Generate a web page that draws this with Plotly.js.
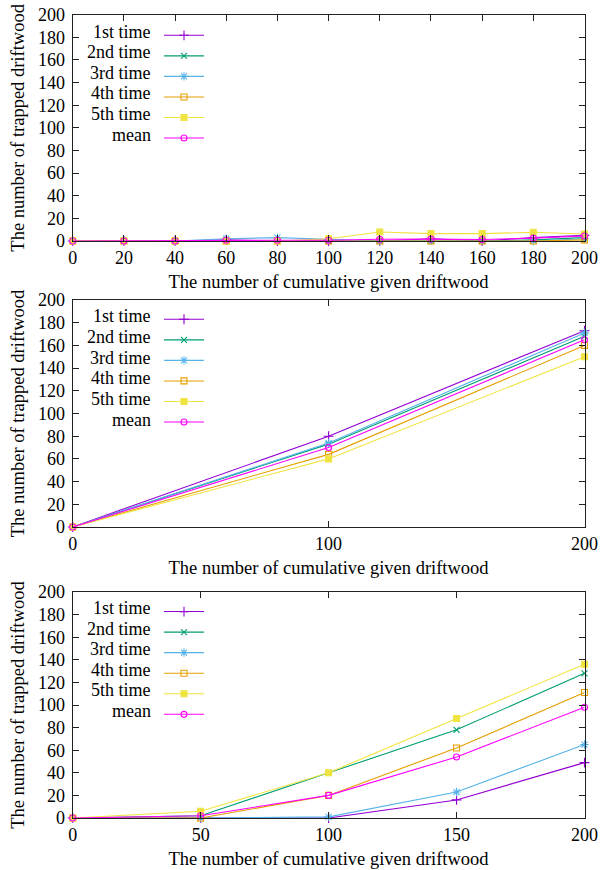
<!DOCTYPE html>
<html>
<head>
<meta charset="utf-8">
<script src="https://cdn.plot.ly/plotly-3.0.1.min.js"></script>
<style>html,body{margin:0;padding:0;background:#fff;}#chart{width:600px;height:870px;}</style>
</head>
<body>
<div id="chart"></div>
<script>
// ---------- data ----------
const seriesNames = ["1st time", "2nd time", "3rd time", "4th time", "5th time", "mean"];

const x1 = [0, 20, 40, 60, 80, 100, 120, 140, 160, 180, 200];
const p1First  = [0, 0, 0, 1, 0, 0, 0, 2, 0, 3, 5];
const p1Second = [0, 0, 0, 0, 0, 0, 0, 0, 0, 1, 3];
const p1Third  = [0, 0, 0, 2, 3, 1.5, 0, 0, 0, 0, 2];
const p1Fourth = [0, 0, 0, 0, 0, 0, 0, 0, 0, 0, 1];
const p1Fifth  = [0, 0, 0, 0, 0, 2, 8, 6.5, 6.5, 7.7, 6.2];
const p1Mean   = [0, 0, 0, 0.6, 0.6, 0.7, 1.6, 1.7, 1.3, 2.5, 4.4];

const x2 = [0, 100, 200];
const p2First  = [0, 80, 173];
const p2Second = [0, 73, 168];
const p2Third  = [0, 74, 171];
const p2Fourth = [0, 64, 160];
const p2Fifth  = [0, 60, 150];
const p2Mean   = [0, 70, 165];

const x3 = [0, 50, 100, 150, 200];
const p3First  = [0, 0, 0, 16, 49];
const p3Second = [0, 2, 40, 78, 128];
const p3Third  = [0, 0, 1, 23, 65];
const p3Fourth = [0, 0, 20, 62, 111];
const p3Fifth  = [0, 6, 40, 88, 136];
const p3Mean   = [0, 2, 20, 54, 98];

const xTicks1 = [0, 20, 40, 60, 80, 100, 120, 140, 160, 180, 200];
const xTicks2 = [0, 100, 200];
const xTicks3 = [0, 50, 100, 150, 200];
const yTicks = [0, 20, 40, 60, 80, 100, 120, 140, 160, 180, 200];

// ---------- styles ----------
const colors = ["#9400d3", "#009e73", "#56b4e9", "#e69f00", "#f0e442", "#ff00ff"];
const symbols = ["cross-thin-open", "x-thin-open", "asterisk-open", "square-open", "square", "circle-open"];
const sizes = [7, 6, 7, 6, 6, 6];
const FONT = "Liberation Serif, Times New Roman, serif";
const W = 600, H = 870;

const panels = [
  {x: x1, ys: [p1First, p1Second, p1Third, p1Fourth, p1Fifth, p1Mean], ticks: xTicks1,
   top: 14.7, bottom: 241, rows: [32, 52.5, 73, 93.5, 114, 134.5]},
  {x: x2, ys: [p2First, p2Second, p2Third, p2Fourth, p2Fifth, p2Mean], ticks: xTicks2,
   top: 300, bottom: 527, rows: [316, 336.8, 357.6, 378.4, 399.2, 420]},
  {x: x3, ys: [p3First, p3Second, p3Third, p3Fourth, p3Fifth, p3Mean], ticks: xTicks3,
   top: 592, bottom: 818, rows: [608.3, 628.8, 649.3, 669.8, 690.3, 710.8]}
];

const left = 72.7, right = 584.5;
const traces = [];
const layout = {
  width: W, height: H,
  margin: {l: 0, r: 0, t: 0, b: 0},
  paper_bgcolor: "#fff", plot_bgcolor: "#fff",
  font: {family: FONT, size: 18, color: "#000"},
  annotations: [],
  showlegend: true
};

panels.forEach((p, pi) => {
  const sfx = pi === 0 ? "" : String(pi + 1);
  const legendId = "legend" + sfx;
  p.ys.forEach((yv, si) => {
    traces.push({
      type: "scatter", mode: "lines+markers",
      x: p.x, y: yv,
      xaxis: "x" + sfx, yaxis: "y" + sfx,
      name: "",
      legend: legendId,
      cliponaxis: false,
      line: {color: colors[si], width: 1.1},
      marker: {symbol: symbols[si], size: sizes[si], color: colors[si],
               line: {color: colors[si], width: 1.1}}
    });
  });
  const axCommon = {
    showgrid: false, zeroline: false, showline: true, linecolor: "#222", linewidth: 1,
    mirror: "ticks", ticks: "inside", ticklen: 6, tickcolor: "#222", tickwidth: 1,
    tickfont: {family: FONT, size: 18, color: "#000"}
  };
  layout["xaxis" + sfx] = Object.assign({}, axCommon, {
    domain: [left / W, right / W],
    anchor: "y" + sfx,
    range: [0, 200], tickmode: "array", tickvals: p.ticks, ticktext: p.ticks.map(String),
    ticklabelstandoff: 0,
    title: {text: "The number of cumulative given driftwood", font: {family: FONT, size: 18.5, color: "#000"}, standoff: 8}
  });
  layout["yaxis" + sfx] = Object.assign({}, axCommon, {
    domain: [1 - p.bottom / H, 1 - p.top / H],
    anchor: "x" + sfx,
    range: [0, 200], tickmode: "array", tickvals: yTicks, ticktext: yTicks.map(String),
    ticklabelstandoff: 3,
    title: {text: "The number of trapped driftwood", font: {family: FONT, size: 18.5, color: "#000"}, standoff: 8}
  });
  layout[legendId] = {
    x: 159 / W, y: 1 - (p.rows[0] - 12) / H, xanchor: "left", yanchor: "top",
    bgcolor: "rgba(0,0,0,0)", borderwidth: 0,
    font: {family: FONT, size: 13.5}, itemwidth: 40, tracegroupgap: 0
  };
  seriesNames.forEach((nm, si) => {
    layout.annotations.push({
      xref: "paper", yref: "paper", x: 153 / W, y: 1 - p.rows[si] / H,
      xanchor: "right", yanchor: "middle", showarrow: false,
      text: nm, font: {family: FONT, size: 18, color: "#000"}
    });
  });
});

Plotly.newPlot("chart", traces, layout, {displayModeBar: false, staticPlot: true});
</script>
</body>
</html>
